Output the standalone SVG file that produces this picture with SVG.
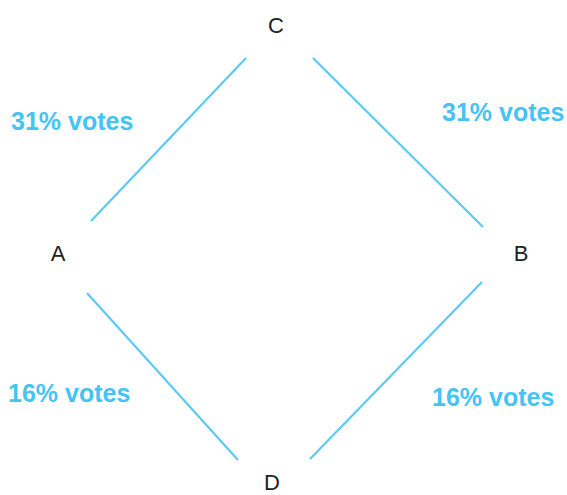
<svg xmlns="http://www.w3.org/2000/svg" width="567" height="495" viewBox="0 0 567 495">
<style>
.node{font-family:"Liberation Sans",Arial,sans-serif;font-size:22px;fill:#222;text-anchor:middle}
.lbl{font-family:"Liberation Sans",Arial,sans-serif;font-size:25px;font-weight:bold;fill:#44c4f5}
.edge{stroke:#5ccaf5;stroke-width:2.2;fill:none}
</style>
<rect width="567" height="495" fill="#fff"/>
<g id="connectors">
<line class="edge" x1="91" y1="221" x2="246" y2="58"/>
<line class="edge" x1="313" y1="58" x2="483" y2="227"/>
<line class="edge" x1="87" y1="293" x2="238" y2="460"/>
<line class="edge" x1="310" y1="459" x2="482" y2="282"/>
<text class="lbl" x="11" y="130">31% votes</text>
<text class="lbl" x="442" y="121">31% votes</text>
<text class="lbl" x="8" y="402">16% votes</text>
<text class="lbl" x="432" y="406">16% votes</text>
</g>
<g id="node-C"><text class="node" x="276" y="33">C</text></g>
<g id="node-A"><text class="node" x="58" y="261">A</text></g>
<g id="node-B"><text class="node" x="521" y="261">B</text></g>
<g id="node-D"><text class="node" x="272" y="490">D</text></g>
</svg>
